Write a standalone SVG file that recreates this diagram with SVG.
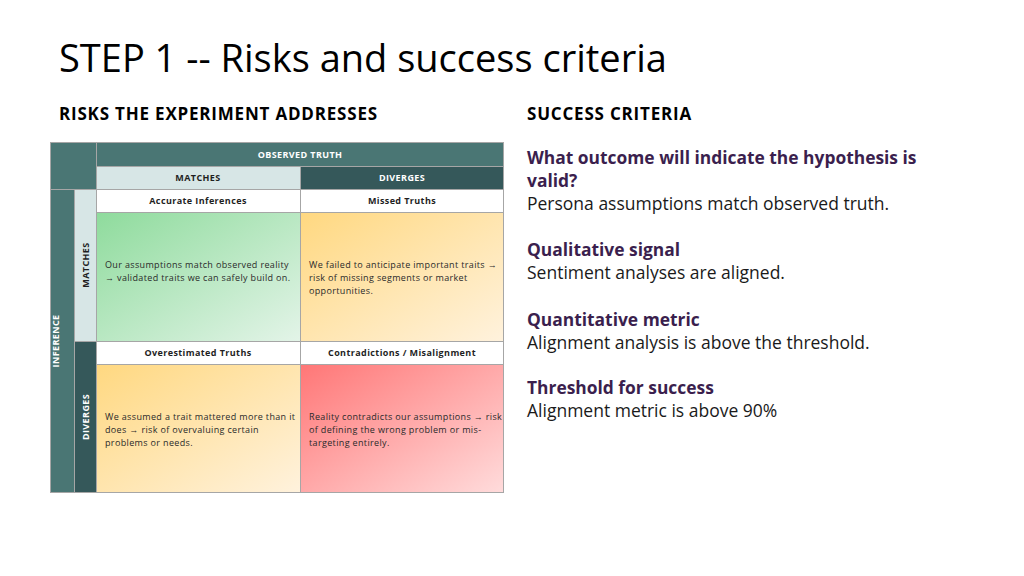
<svg xmlns="http://www.w3.org/2000/svg" width="1024" height="576" viewBox="0 0 1024 576">
<style>
.t{font-family:"Open Sans","Liberation Sans",sans-serif}
.hdr{font-family:"Open Sans","Liberation Sans",sans-serif;font-weight:bold;font-size:9px;letter-spacing:0.4px;text-anchor:middle}
.cell{font-family:"Open Sans","Liberation Sans",sans-serif;font-size:9px;letter-spacing:0.35px;fill:#2a2a2a}
.q{font-family:"Open Sans","Liberation Sans",sans-serif;font-weight:bold;font-size:17.4px;fill:#3b1f4e}
.a{font-family:"Open Sans","Liberation Sans",sans-serif;font-size:17.5px;fill:#1a1a1a}
.ln{stroke:#a6a6a6;stroke-width:1;fill:none}
</style>
<defs>
<linearGradient id="gG" x1="0" y1="0" x2="1" y2="1"><stop offset="0" stop-color="#8edb9c"/><stop offset="1" stop-color="#e3f4e8"/></linearGradient>
<linearGradient id="gO" x1="0" y1="0" x2="1" y2="1"><stop offset="0" stop-color="#ffd880"/><stop offset="1" stop-color="#fff2dd"/></linearGradient>
<linearGradient id="gR" x1="0" y1="0" x2="1" y2="1"><stop offset="0" stop-color="#ff7676"/><stop offset="1" stop-color="#ffdcdc"/></linearGradient>
</defs>
<rect width="1024" height="576" fill="#ffffff"/>
<text class="t" x="59" y="72" font-size="38" fill="#000">STEP 1 -- Risks and success criteria</text>
<text class="t" x="59" y="120" font-size="17" font-weight="bold" letter-spacing="0.8" fill="#000">RISKS THE EXPERIMENT ADDRESSES</text>
<text class="t" x="527" y="120" font-size="17" font-weight="bold" letter-spacing="0.8" fill="#000">SUCCESS CRITERIA</text>

<g id="matrix">
<rect x="50" y="142" width="46" height="47" fill="#4a7674"/>
<g id="observed-truth"><rect x="96" y="142" width="408" height="24" fill="#4a7674"/><text class="hdr" x="300" y="158" fill="#fff">OBSERVED TRUTH</text></g>
<g id="col-matches"><rect x="96" y="166" width="204" height="23" fill="#d7e6e6"/><text class="hdr" x="198" y="181" fill="#1f1f1f">MATCHES</text></g>
<g id="col-diverges"><rect x="300" y="166" width="204" height="23" fill="#35585a"/><text class="hdr" x="402" y="181" fill="#fff">DIVERGES</text></g>
<g id="inference"><rect x="50" y="189" width="24" height="304" fill="#4a7674"/><text class="hdr" transform="translate(59,341) rotate(-90)" fill="#fff">INFERENCE</text></g>
<g id="row-matches"><rect x="74" y="189" width="22" height="152" fill="#d7e6e6"/><text class="hdr" transform="translate(88.5,265) rotate(-90)" fill="#1f1f1f">MATCHES</text></g>
<g id="row-diverges"><rect x="74" y="341" width="22" height="152" fill="#35585a"/><text class="hdr" transform="translate(88.5,417) rotate(-90)" fill="#fff">DIVERGES</text></g>

<g id="accurate-inferences">
<rect x="96" y="189" width="204" height="23" fill="#fff"/><text class="hdr" x="198" y="204" fill="#1f1f1f">Accurate Inferences</text>
<rect x="96" y="212" width="204" height="129" fill="url(#gG)"/>
<text class="cell" x="105" y="268">Our assumptions match observed reality</text>
<text class="cell" x="105" y="281">→ validated traits we can safely build on.</text>
</g>
<g id="missed-truths">
<rect x="300" y="189" width="204" height="23" fill="#fff"/><text class="hdr" x="402" y="204" fill="#1f1f1f">Missed Truths</text>
<rect x="300" y="212" width="204" height="129" fill="url(#gO)"/>
<text class="cell" x="309" y="268">We failed to anticipate important traits →</text>
<text class="cell" x="309" y="281">risk of missing segments or market</text>
<text class="cell" x="309" y="294">opportunities.</text>
</g>
<g id="overestimated-truths">
<rect x="96" y="341" width="204" height="23" fill="#fff"/><text class="hdr" x="198" y="356" fill="#1f1f1f">Overestimated Truths</text>
<rect x="96" y="364" width="204" height="129" fill="url(#gO)"/>
<text class="cell" x="105" y="420">We assumed a trait mattered more than it</text>
<text class="cell" x="105" y="433">does → risk of overvaluing certain</text>
<text class="cell" x="105" y="446">problems or needs.</text>
</g>
<g id="contradictions">
<rect x="300" y="341" width="204" height="23" fill="#fff"/><text class="hdr" x="402" y="356" fill="#1f1f1f">Contradictions / Misalignment</text>
<rect x="300" y="364" width="204" height="129" fill="url(#gR)"/>
<text class="cell" x="309" y="420">Reality contradicts our assumptions → risk</text>
<text class="cell" x="309" y="433">of defining the wrong problem or mis-</text>
<text class="cell" x="309" y="446">targeting entirely.</text>
</g>
</g>
<g id="connectors">
<rect class="ln" x="50.5" y="142.5" width="453" height="350"/>
<path class="ln" d="M96.5 142.5V492.5M74.5 189.5V492.5M300.5 166.5V492.5M96.5 166.5H503.5M96.5 189.5H503.5M96.5 212.5H503.5M74.5 341.5H503.5M96.5 364.5H503.5M50.5 189.5H96.5"/>
</g>

<g id="success-criteria">
<text class="q" x="527" y="164">What outcome will indicate the hypothesis is</text>
<text class="q" x="527" y="187">valid?</text>
<text class="a" x="527" y="210">Persona assumptions match observed truth.</text>
<text class="q" x="527" y="256">Qualitative signal</text>
<text class="a" x="527" y="279">Sentiment analyses are aligned.</text>
<text class="q" x="527" y="326">Quantitative metric</text>
<text class="a" x="527" y="349">Alignment analysis is above the threshold.</text>
<text class="q" x="527" y="394">Threshold for success</text>
<text class="a" x="527" y="417">Alignment metric is above 90%</text>
</g>
</svg>
